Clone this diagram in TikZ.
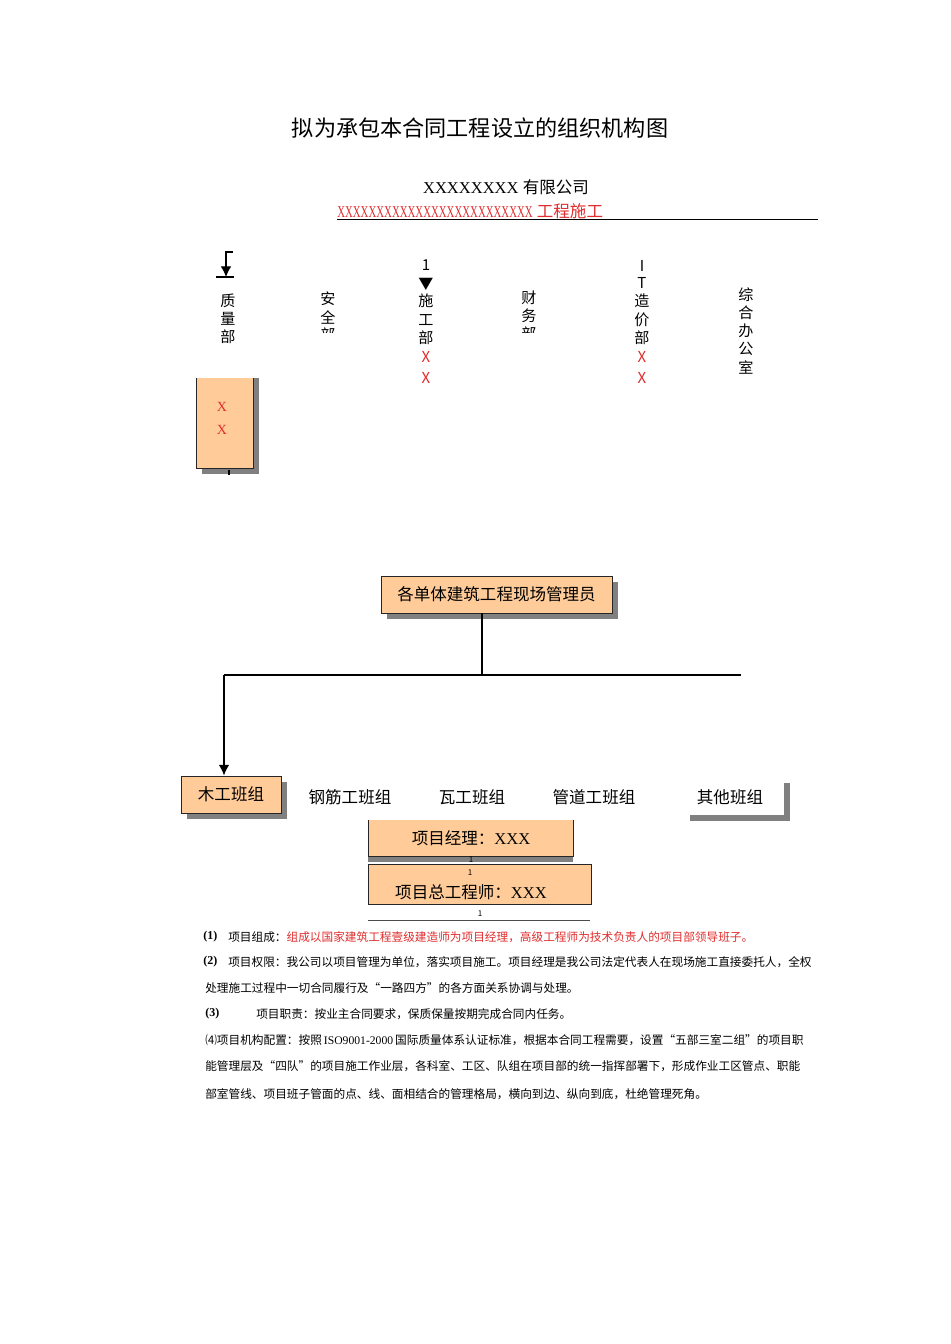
\documentclass[tikz,border=0pt]{standalone}
\usepackage{fontspec}
\setmainfont{Liberation Serif}
\newfontfamily\cjk{Noto Sans CJK SC}
\usetikzlibrary{shadows,arrows.meta}
\definecolor{peach}{RGB}{255,204,153}
\definecolor{shadowgray}{RGB}{128,128,128}
\definecolor{redtx}{RGB}{225,45,45}
\newcommand{\rX}{\textcolor{redtx}{X}}
\begin{document}
\begin{tikzpicture}[x=0.75pt,y=-0.75pt,
  pbox/.style={draw=black!85, line width=0.6pt, fill=peach, inner sep=0pt, font=\cjk\fontsize{12.4pt}{15pt}\selectfont},
  shad/.style={general shadow={fill=shadowgray, shadow xshift=4.5pt, shadow yshift=-4.5pt}},
  team/.style={font=\cjk\fontsize{12.4pt}{15pt}\selectfont, inner sep=0pt},
  vlab/.style={font=\cjk\fontsize{11.3pt}{12pt}\selectfont, inner sep=0pt},
  para/.style={font=\fontsize{8.75pt}{11pt}\selectfont, inner sep=0pt, anchor=west},
  conn/.style={line width=1.5pt, black},
  onelab/.style={font=\cjk\fontsize{6pt}{7pt}\selectfont, inner sep=0pt}]
\useasboundingbox[fill=white] (0,0) rectangle (950,1344);

% title and header
\node[inner sep=0pt, font=\cjk\fontsize{16.6pt}{20pt}\selectfont] (title) at (480,128) {拟为承包本合同工程设立的组织机构图};
\node[inner sep=0pt, font=\fontsize{12.4pt}{15pt}\selectfont] (company) at (506,187) {XXXXXXXX {\cjk 有限公司}};
\node[inner sep=0pt, anchor=west, text=redtx, font=\fontsize{12.4pt}{15pt}\selectfont] (project) at (337,211) {\scalebox{0.655}[1]{XXXXXXXXXXXXXXXXXXXXXXXXX}\ {\cjk 工程施工}};
\coordinate (ulA) at (337,219);
\coordinate (ulB) at (818,219);
\draw[line width=0.6pt] (ulA) -- (ulB);

% small arrow at top left
\coordinate (qa1) at (233,252);
\coordinate (qa2) at (226,252);
\coordinate (qa3) at (226,277);
\coordinate (qb1) at (216,277);
\coordinate (qb2) at (234,277);
\draw[line width=0.8pt, -{Latex[length=8pt,width=8pt]}] (qa1) -- (qa2) -- (qa3);
\draw[line width=0.8pt] (qb1) -- (qb2);

% vertical department labels
\foreach \c/\yy [count=\i] in {质/301,量/319,部/337}
  \node[vlab] (zl\i) at (228,\yy) {\c};
\begin{scope}
  \clip (290,240) rectangle (570,332);
  \foreach \c/\yy [count=\i] in {安/299,全/317,部/335}
    \node[vlab] (aq\i) at (328,\yy) {\c};
  \foreach \c/\yy [count=\i] in {财/298,务/316,部/334}
    \node[vlab] (cw\i) at (529,\yy) {\c};
\end{scope}
\foreach \c/\yy [count=\i] in {1/265,▼/284,施/301,工/320,部/338,\rX/357,\rX/378}
  \node[vlab] (sg\i) at (426,\yy) {\c};
\foreach \c/\yy [count=\i] in {I/266,T/283,造/301,价/320,部/338,\rX/357,\rX/378}
  \node[vlab] (zj\i) at (642,\yy) {\c};
\foreach \c/\yy [count=\i] in {综/295,合/313,办/331,公/349,室/367}
  \node[vlab] (zh\i) at (746,\yy) {\c};

% XX box (top cut off)
\begin{scope}
  \clip (150,378.5) rectangle (300,480);
  \node[pbox, shad, minimum width=42.75pt, minimum height=75pt] (xxbox) at (224.5,418) {};
\end{scope}
\node[inner sep=0pt, text=redtx, font=\fontsize{10.5pt}{12pt}\selectfont] (xx1) at (222,407) {X};
\node[inner sep=0pt, text=redtx, font=\fontsize{10.5pt}{12pt}\selectfont] (xx2) at (222,430) {X};
\coordinate (tk1) at (229,470);
\coordinate (tk2) at (229,475);
\draw[line width=0.8pt] (tk1) -- (tk2);

% manager box
\node[pbox, shad, minimum width=173.25pt, minimum height=27.75pt] (mgr) at (496.5,594.5) {各单体建筑工程现场管理员};
\coordinate (j1) at (482,675);
\coordinate (hl) at (224,675);
\coordinate (hr) at (741,675);
\draw[conn] (mgr.south -| j1) -- (j1);
\draw[conn] (hl) -- (hr);

% team row
\node[pbox, shad, minimum width=75pt, minimum height=27.75pt] (mugong) at (231,794.5) {木工班组};
\draw[conn, -{Latex[length=8pt,width=8pt]}] (hl) -- (hl |- mugong.north);
\node[team] (gangjin) at (350,797) {钢筋工班组};
\node[team] (wagong) at (472,797) {瓦工班组};
\node[team] (guandao) at (594,797) {管道工班组};
\node[team, fill=white, shad, minimum width=75pt, minimum height=28.5pt] (qita) at (734,795.5) {};
\node[team] (qitat) at (730,797) {其他班组};

% project manager boxes
\begin{scope}
  \clip (300,820.5) rectangle (650,900);
  \node[pbox, general shadow={fill=shadowgray, shadow xshift=0pt, shadow yshift=-4.5pt}, minimum width=153.75pt, minimum height=30pt] (pm1) at (470.5,836) {};
\end{scope}
\node[team] (pm1t) at (471,838) {项目经理：{\rmfamily XXX}};
\node[onelab] (one1) at (471,860) {1};
\node[pbox, minimum width=167.25pt, minimum height=30pt] (pm2) at (479.5,884) {};
\node[onelab] (one2) at (470,873) {1};
\node[team] (pm2t) at (471,892) {项目总工程师：{\rmfamily XXX}};
\node[onelab] (one3) at (480,914) {1};
\coordinate (bl1) at (368,920);
\coordinate (bl2) at (590,920);
\draw[line width=0.6pt, black!70] (bl1) -- (bl2);

% paragraphs
\node[para, font=\bfseries\fontsize{9pt}{11pt}\selectfont] (n1) at (203,937) {(1)};
\node[para] (p1) at (228,937) {\cjk 项目组成：\textcolor{redtx}{组成以国家建筑工程壹级建造师为项目经理，高级工程师为技术负责人的项目部领导班子。}};
\node[para, font=\bfseries\fontsize{9pt}{11pt}\selectfont] (n2) at (203,962) {(2)};
\node[para] (p2) at (228,962) {\cjk 项目权限：我公司以项目管理为单位，落实项目施工。项目经理是我公司法定代表人在现场施工直接委托人，全权};
\node[para] (p3) at (205,988) {\cjk 处理施工过程中一切合同履行及“一路四方”的各方面关系协调与处理。};
\node[para, font=\bfseries\fontsize{9pt}{11pt}\selectfont] (n3) at (205,1014) {(3)};
\node[para] (p4) at (256,1014) {\cjk 项目职责：按业主合同要求，保质保量按期完成合同内任务。};
\node[para] (p5) at (205,1040) {{\cjk ⑷项目机构配置：按照}\,ISO9001-2000\,{\cjk 国际质量体系认证标准，根据本合同工程需要，设置“五部三室二组”的项目职}};
\node[para] (p6) at (205,1066) {\cjk 能管理层及“四队”的项目施工作业层，各科室、工区、队组在项目部的统一指挥部署下，形成作业工区管点、职能};
\node[para] (p7) at (205,1094) {\cjk 部室管线、项目班子管面的点、线、面相结合的管理格局，横向到边、纵向到底，杜绝管理死角。};
\end{tikzpicture}
\end{document}
